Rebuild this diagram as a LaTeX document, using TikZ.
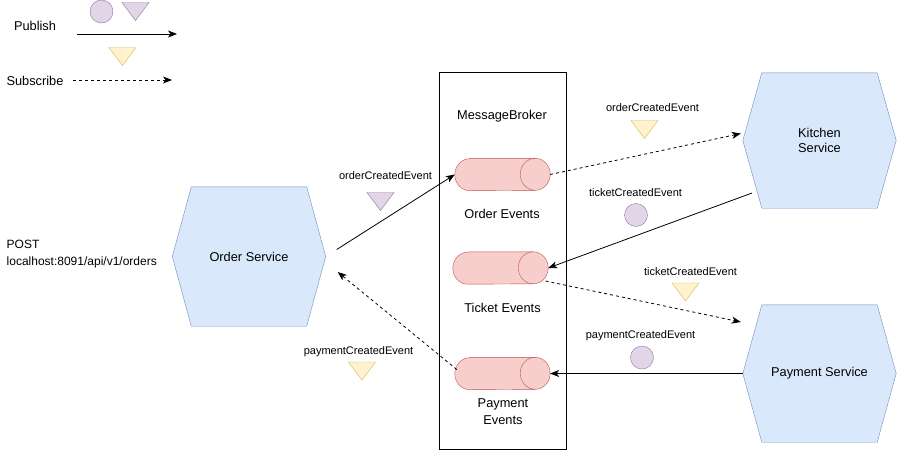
\documentclass[tikz,border=0pt]{standalone}
\usepackage{fontspec}
\setmainfont{Liberation Sans}
\usetikzlibrary{arrows.meta,backgrounds}

\definecolor{svcfill}{HTML}{DAE8FC}
\definecolor{svcline}{HTML}{6C8EBF}
\definecolor{qfill}{HTML}{F8CECC}
\definecolor{qline}{HTML}{B85450}
\definecolor{pubfill}{HTML}{E1D5E7}
\definecolor{publine}{HTML}{9673A6}
\definecolor{subfill}{HTML}{FFF2CC}
\definecolor{subline}{HTML}{D6B656}

\newcommand{\svchex}[1]{\draw[svcline,fill=svcfill] (#1.west) -- ([xshift=19pt]#1.north west) -- ([xshift=-19pt]#1.north east) -- (#1.east) -- ([xshift=-19pt]#1.south east) -- ([xshift=19pt]#1.south west) -- cycle;}
\newcommand{\evqueue}[1]{\draw[qline,fill=qfill] ([xshift=15pt]#1.north west) -- ([xshift=-15pt]#1.north east) arc[start angle=90,end angle=-90,x radius=15pt,y radius=16pt] -- ([xshift=15pt]#1.south west) arc[start angle=-90,end angle=-270,x radius=15pt,y radius=16pt] -- cycle;
\draw[qline] ([xshift=-15pt]#1.north east) arc[start angle=90,end angle=270,x radius=15pt,y radius=16pt];}

\begin{document}
\begin{tikzpicture}[x=1pt,y=-1pt,
  every node/.style={inner sep=0pt,font=\fontsize{12.8}{15}\selectfont},
  svc/.style={minimum width=153pt,align=center},
  qnode/.style={minimum width=95pt,minimum height=32pt},
  evt/.style={font=\fontsize{11}{13}\selectfont},
  pubcirc/.style={circle,draw=publine,fill=pubfill,minimum size=23pt},
  pub/.style={-{Stealth[length=9pt,width=7pt,inset=2.5pt]},line width=0.8pt},
  sub/.style={pub,dash pattern=on 3pt off 3pt},
  pics/pubtri/.style={code={\draw[publine,fill=pubfill] (-13.5,-9) -- (13.5,-9) -- (0,9) -- cycle;}},
  pics/subtri/.style={code={\draw[subline,fill=subfill] (-13.5,-9) -- (13.5,-9) -- (0,9) -- cycle;}}]
\useasboundingbox (0,0) rectangle (897,451);

\node (pubtxt) at (35,26) {Publish};
\coordinate (pubfrom) at (77,34);
\coordinate (pubto) at (177,34);
\draw[pub] (pubfrom) -- (pubto);
\node[pubcirc] (legdot) at (101.5,11.5) {};
\pic at (135.5,11.5) {pubtri};
\pic at (122.5,56.5) {subtri};
\node (subtxt) at (35,81) {Subscribe};
\coordinate (subfrom) at (73,80);
\coordinate (subto) at (172,80);
\draw[sub] (subfrom) -- (subto);

\node[align=left,anchor=west,font=\fontsize{12}{17}\selectfont] (req) at (6.5,254.5) {POST\\localhost:8091/api/v1/orders};

\node[svc,minimum height=139pt] (order) at (249,256.5) {Order Service};
\node[svc,minimum height=135pt] (kitchen) at (819.5,140.5) {Kitchen\\Service};
\node[svc,minimum height=137pt] (payment) at (819.5,373.5) {Payment Service};

\node[draw,line width=0.8pt,minimum width=127pt,minimum height=377pt] (broker) at (502.5,260.5) {};
\node (brokerlbl) at (502,116) {MessageBroker};
\node[qnode] (orderq) at (502.5,174.5) {};
\node (orderqlbl) at (502,214) {Order Events};
\node[qnode] (ticketq) at (500.5,268) {};
\node (ticketqlbl) at (502.5,308) {Ticket Events};
\node[qnode] (paymentq) at (502.5,373.5) {};
\node[align=center,font=\fontsize{12.8}{17}\selectfont] (paymentqlbl) at (503,411.5) {Payment\\Events};

\begin{scope}[on background layer]
\svchex{order}
\svchex{kitchen}
\svchex{payment}
\evqueue{orderq}
\evqueue{ticketq}
\evqueue{paymentq}
\end{scope}

\draw[pub] ([shift={(11,-7)}]order.east) -- (orderq.west);
\draw[sub] (orderq.east) -- ([shift={(-2,-7)}]kitchen.west);
\draw[pub] ([shift={(-67.5,52.5)}]kitchen.center) -- (ticketq.east);
\draw[sub] ([shift={(45,13)}]ticketq.center) -- ([shift={(-2,-51.5)}]payment.west);
\draw[pub] (payment.west) -- (paymentq.east);
\draw[sub] ([shift={(2,-4)}]paymentq.west) -- ([shift={(12,15.5)}]order.east);

\node[evt] (lbl1) at (385.5,176) {orderCreatedEvent};
\pic at (380.5,201.5) {pubtri};
\node[evt] (lbl2) at (652.5,108) {orderCreatedEvent};
\pic at (644.5,129.5) {subtri};
\node[evt] (lbl3) at (635.5,193) {ticketCreatedEvent};
\node[pubcirc] (dot3) at (636,215) {};
\node[evt] (lbl4) at (690.5,272) {ticketCreatedEvent};
\pic at (685.5,292) {subtri};
\node[evt] (lbl5) at (640.5,336) {paymentCreatedEvent};
\node[pubcirc] (dot5) at (642,357.5) {};
\node[evt] (lbl6) at (358.5,352) {paymentCreatedEvent};
\pic at (362,371) {subtri};
\end{tikzpicture}
\end{document}
